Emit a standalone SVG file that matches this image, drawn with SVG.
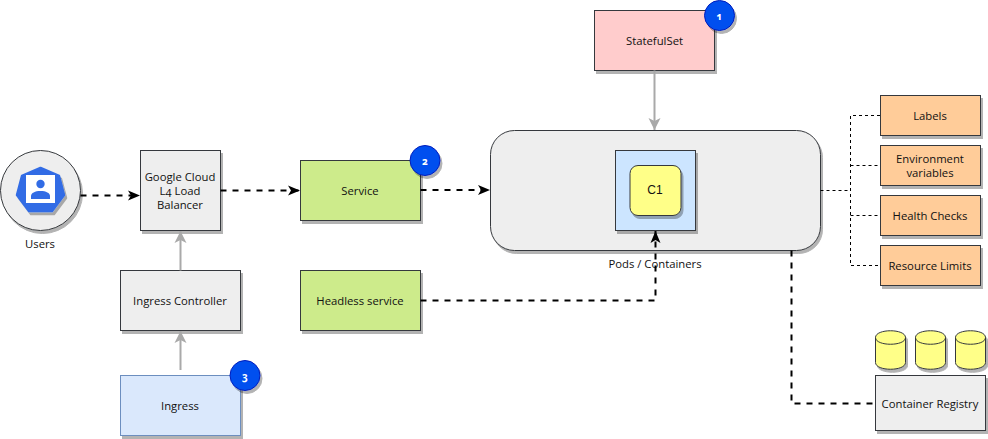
<svg xmlns="http://www.w3.org/2000/svg" width="988" height="439" viewBox="0 0 988 439">
<style>
text{font-family:"Open Sans","Noto Sans",sans-serif;font-size:11.3px;fill:#111;text-anchor:middle;font-variant-numeric:oldstyle-nums}
.box{stroke:#36393d;stroke-width:1;filter:url(#sh)}
.gray{fill:#eeeeee}.green{fill:#cdeb8b}.orange{fill:#ffcc99}.yellow{fill:#ffff88}
.dash{fill:none;stroke:#000;stroke-width:2;stroke-dasharray:6 6}
.thin{fill:none;stroke:#000;stroke-width:1;stroke-dasharray:3 3}
.solid{fill:none;stroke:#a9a9a9;stroke-width:2}
.badge{fill:#0050ef;stroke:#001dbc;stroke-width:1;filter:url(#sh)}
.bt{fill:#fff;font-size:10px;font-weight:700}
</style>
<defs>
<filter id="sh" x="-20%" y="-20%" width="140%" height="140%"><feOffset in="SourceAlpha" dx="2" dy="3" result="o"/><feFlood flood-color="#000" flood-opacity="0.3"/><feComposite in2="o" operator="in"/><feMerge><feMergeNode/><feMergeNode in="SourceGraphic"/></feMerge></filter>
<marker id="ab" markerUnits="userSpaceOnUse" markerWidth="14" markerHeight="12" refX="12" refY="6" orient="auto"><path d="M0 1 L12 6 L0 11 L3 6Z" fill="#000"/></marker>
<marker id="ag" markerUnits="userSpaceOnUse" markerWidth="14" markerHeight="14" refX="12" refY="7" orient="auto"><path d="M0 1 L12 7 L0 13 L3 7Z" fill="#a9a9a9"/></marker>
</defs>
<g id="statefulset"><rect class="box" x="594.5" y="10.5" width="120" height="60" fill="#ffcccc"/><text x="654.5" y="45">StatefulSet</text></g>
<g id="badge1"><circle class="badge" cx="719.5" cy="15.5" r="15"/><text class="bt" x="719.5" y="19.500">1</text></g>
<g id="pods"><rect class="box gray" x="490.5" y="130.5" width="330" height="120" rx="24"/><text x="655" y="268">Pods / Containers</text></g>
<g id="pod"><rect class="box" x="615.5" y="150.5" width="80" height="80" fill="#cce5ff"/></g>
<g id="c1"><rect class="box yellow" x="630" y="165.5" width="51" height="50" rx="8"/><text x="655" y="194" style="font-family:'Liberation Sans',Arial,sans-serif;font-size:12px">C1</text></g>
<g id="labels"><rect class="box orange" x="880.5" y="95.5" width="100" height="40"/><text x="930" y="120">Labels</text></g>
<g id="env"><rect class="box orange" x="880.5" y="145.5" width="100" height="40"/><text x="930" y="163">Environment</text><text x="930" y="177">variables</text></g>
<g id="health"><rect class="box orange" x="880.5" y="195.5" width="100" height="40"/><text x="930" y="220">Health Checks</text></g>
<g id="limits"><rect class="box orange" x="880.5" y="245.5" width="100" height="40"/><text x="930" y="270">Resource Limits</text></g>
<g id="db1"><path class="box yellow" d="M875.5 337.5c0-9 30-9 30 0v25c0 9-30 9-30 0z"/><path d="M875.5 337.5c0 9 30 9 30 0" fill="none" stroke="#36393d"/></g>
<g id="db2"><path class="box yellow" d="M915.5 337.5c0-9 30-9 30 0v25c0 9-30 9-30 0z"/><path d="M915.5 337.5c0 9 30 9 30 0" fill="none" stroke="#36393d"/></g>
<g id="db3"><path class="box yellow" d="M955.5 337.5c0-9 30-9 30 0v25c0 9-30 9-30 0z"/><path d="M955.5 337.5c0 9 30 9 30 0" fill="none" stroke="#36393d"/></g>
<g id="registry"><rect class="box gray" x="875.5" y="375.5" width="110" height="55"/><text x="930" y="408">Container Registry</text></g>
<g id="users"><circle class="box gray" cx="40.5" cy="190.5" r="40"/>
<path d="M40.500 168L59 176L64 195L52 211H29L17 195L22 176Z" fill="#326ce5" stroke="#326ce5" stroke-width="2.500" stroke-linejoin="round" filter="url(#sh)"/>
<rect x="26" y="175" width="29" height="28" fill="#fff"/>
<circle cx="40.500" cy="184" r="4.200" fill="#326ce5"/><path d="M31 199v-3c0-3 4-5 9.500-5s9.500 2 9.500 5v3z" fill="#326ce5"/>
<text x="40" y="248">Users</text></g>
<g id="lb"><rect class="box gray" x="140.500" y="150.500" width="80" height="80"/><text x="180" y="181">Google Cloud</text><text x="180" y="195">L4 Load</text><text x="180" y="209">Balancer</text></g>
<g id="controller"><rect class="box gray" x="120.500" y="270.500" width="120" height="60"/><text x="180" y="305">Ingress Controller</text></g>
<g id="ingress"><rect class="box" x="120.500" y="375.500" width="120" height="60" fill="#dae8fc" style="stroke:#6c8ebf"/><text x="180" y="410">Ingress</text></g>
<g id="badge3"><circle class="badge" cx="245" cy="375.500" r="15"/><text class="bt" x="245" y="379.500">3</text></g>
<g id="service"><rect class="box green" x="300.500" y="160.500" width="120" height="60"/><text x="360" y="195">Service</text></g>
<g id="badge2"><circle class="badge" cx="425" cy="160.500" r="15"/><text class="bt" x="425" y="164.500">2</text></g>
<g id="headless"><rect class="box green" x="300.500" y="270.500" width="120" height="60"/><text x="360" y="305">Headless service</text></g>
<g id="connectors">
<path class="solid" d="M654.500 70.500V130" marker-end="url(#ag)"/>
<path class="solid" d="M180.500 270.500V231" marker-end="url(#ag)"/>
<path class="solid" d="M180.500 370V331" marker-end="url(#ag)"/>
<path class="dash" d="M80.500 195.500H140" marker-end="url(#ab)"/>
<path class="dash" d="M220.500 190.500H300" marker-end="url(#ab)"/>
<path class="dash" d="M420.500 190H490" marker-end="url(#ab)"/>
<path class="dash" d="M420.500 300.500H655.500V231" marker-end="url(#ab)"/>
<path class="dash" d="M791.500 250.500V403.500H875"/>
<path class="thin" d="M820.500 190.500H850.500M880 115.500H850.500V265.500H880M850.500 165.500H880M850.500 215.500H880"/>
</g>
</svg>
